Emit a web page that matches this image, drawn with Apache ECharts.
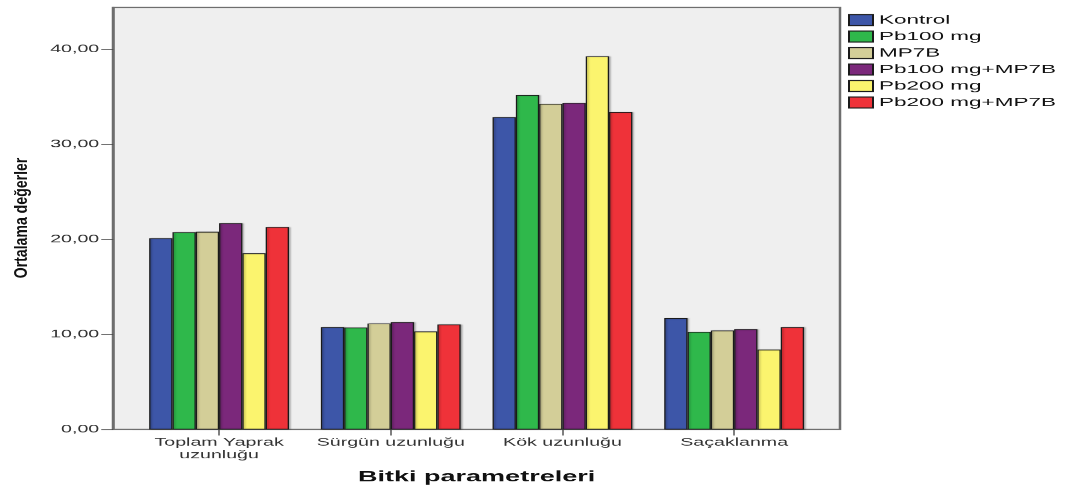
<!DOCTYPE html>
<html>
<head>
<meta charset="utf-8">
<script src="https://cdn.jsdelivr.net/npm/echarts@6/dist/echarts.min.js"></script>
<style>
html, body { margin:0; padding:0; overflow:hidden; background:#ffffff; width:1065px; height:488px; }
#c { width:1065px; height:888px; transform: scaleY(0.5495); transform-origin: 0 0; }
</style>
</head>
<body>
<div id="c"></div>
<script>
// ---- data ----
const categories = ['Toplam Yaprak\nuzunluğu', 'Sürgün uzunluğu', 'Kök uzunluğu', 'Saçaklanma'];
const seriesNames = ['Kontrol', 'Pb100 mg', 'MP7B', 'Pb100 mg+MP7B', 'Pb200 mg', 'Pb200 mg+MP7B'];
const kontrol   = [20.13, 10.77, 32.86, 11.71];
const pb100     = [20.76, 10.73, 35.18, 10.27];
const mp7b      = [20.80, 11.15, 34.26, 10.41];
const pb100mp7b = [21.70, 11.29, 34.36, 10.55];
const pb200     = [18.54, 10.31, 39.26, 8.41];
const pb200mp7b = [21.30, 11.05, 33.40, 10.77];
const yTicks = [0, 10, 20, 30, 40];
const yTitle = 'Ortalama değerler';
const xTitle = 'Bitki parametreleri';

const K = 0.5495; // vertical squash of the picture
const colors = ['#3d56a8', '#2fb84b', '#d3ce98', '#7b287b', '#fbf46e', '#ef3239'];
const seriesData = [kontrol, pb100, mp7b, pb100mp7b, pb200, pb200mp7b];

const chart = echarts.init(document.getElementById('c'), null, {renderer: 'canvas'});
const H = 888;
const plotTop = 7.5 / K, plotBottom = 429.5 / K;

chart.setOption({
  animation: false,
  backgroundColor: '#ffffff',
  graphic: [
    { type: 'rect', z: -10, shape: { x: 113, y: plotTop, width: 727, height: plotBottom - plotTop },
      style: { fill: '#efefef', stroke: '#6e6e6e', lineWidth: 2.5 } },
    { type: 'text', z: 10, x: 22, y: 218 / K, rotation: Math.PI / 2, scaleX: 1.35,
      style: { text: yTitle, font: 'bold 19px "Liberation Sans", Arial, sans-serif', fill: '#111',
               textAlign: 'center', textVerticalAlign: 'middle' } }
  ],
  legend: {
    orient: 'vertical', left: 843, top: 20, itemWidth: 24, itemHeight: 20, itemGap: 7,
    icon: 'rect',
    textStyle: { fontFamily: '"Liberation Sans", Arial, sans-serif', fontSize: 22.5, color: '#111', padding: [0,0,0,1] },
    data: seriesNames
  },
  grid: { left: 133.25, right: 245, top: plotTop, bottom: H - plotBottom, containLabel: false },
  xAxis: {
    type: 'category', data: categories,
    axisLine: { show: true, lineStyle: { color: '#6e6e6e', width: 2 } },
    axisTick: { show: true, alignWithLabel: true, interval: 0, length: 11, lineStyle: { color: '#555', width: 1.5 } },
    axisLabel: { interval: 0, fontFamily: '"Liberation Sans", Arial, sans-serif', fontSize: 19.6, color: '#333', margin: 12, lineHeight: 23 },
    name: xTitle, nameLocation: 'middle', nameGap: 73,
    nameTextStyle: { fontFamily: '"Liberation Sans", Arial, sans-serif', fontWeight: 'bold', fontSize: 27, color: '#111' }
  },
  yAxis: {
    type: 'value', min: 0, max: 44.4, interval: 10, offset: 20,
    splitLine: { show: false },
    axisLine: { show: true, lineStyle: { color: '#6e6e6e', width: 2.5 } },
    axisTick: { show: true, length: 12, customValues: yTicks, lineStyle: { color: '#444', width: 1.5 } },
    axisLabel: { customValues: yTicks, margin: 14,
      fontFamily: '"Liberation Sans", Arial, sans-serif', fontSize: 19.6, color: '#333',
      formatter: v => v.toFixed(2).replace('.', ',') }
  },
  series: seriesNames.map((n, i) => ({
    name: n, type: 'bar', data: seriesData[i], barWidth: 23.3, barGap: '0%',
    itemStyle: { color: colors[i], borderColor: '#1a1a1a', borderWidth: 1.3,
      shadowColor: 'rgba(0,0,0,0.25)', shadowBlur: 2, shadowOffsetX: 1.5 }
  }))
});
</script>
</body>
</html>
